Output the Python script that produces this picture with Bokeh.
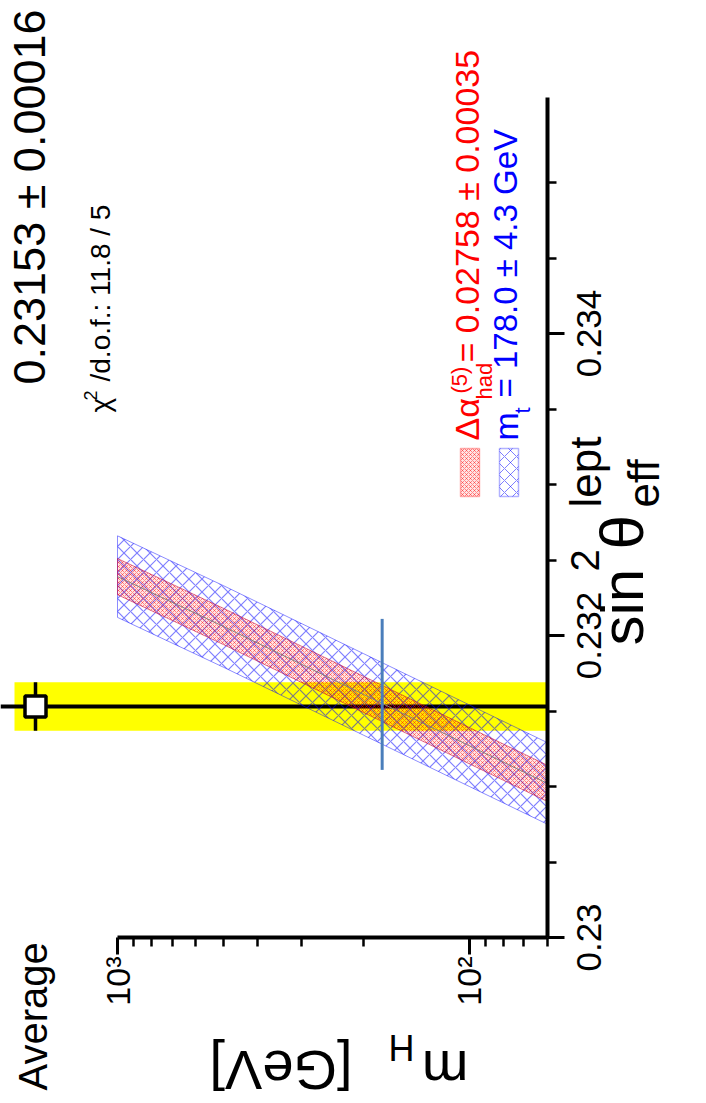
import math
from bokeh.plotting import figure
from bokeh.models import Range1d, FixedTicker, Label, BoxAnnotation
from bokeh.embed import file_html
from bokeh.resources import INLINE

# ---------------- data ----------------
mh = [1000, 500, 200, 100, 60]                       # Higgs mass [GeV]
sin2_center = [0.23239, 0.23206, 0.23161, 0.23127, 0.23102]
red_hi = [0.23251, 0.23218, 0.23173, 0.23139, 0.23114]   # delta alpha band
red_lo = [0.23227, 0.23194, 0.23149, 0.23115, 0.23090]
blue_hi = [0.23266, 0.23233, 0.23188, 0.23154, 0.23129]  # m_t band
blue_lo = [0.23212, 0.23179, 0.23134, 0.23100, 0.23075]

average = 0.23153
average_err = 0.00016
mark_mh = 177
mark_lo = 0.23111
mark_hi = 0.23211

sin2_major = [0.230, 0.232, 0.234]
sin2_minor = [0.2305, 0.231, 0.2315, 0.2325, 0.233, 0.2335, 0.2345, 0.235]
sin2_labels = ["0.23", "0.232", "0.234"]
mh_major = [100, 1000]
mh_minor = [60, 70, 80, 90, 200, 300, 400, 500, 600, 700, 800, 900]
mh_labels = ["10\u00b2", "10\u00b3"]
mh_min, mh_max = 60, 1000
sin2_min, sin2_max = 0.23, 0.23556

# ---------------- layout ----------------
W, H = 706, 1103
PX_1000, PX_60 = 117, 547    # m_H axis positions in pixels
DEC = (PX_60 - PX_1000) / math.log10(mh_max / mh_min)
PY_230, PX_PER_UNIT = 937, 151000.0

def px_to_mh(px):
    return 10 ** (math.log10(mh_max) - (px - PX_1000) / DEC)

def py_to_s2(py):
    return sin2_min + (PY_230 - py) / PX_PER_UNIT

FONT = "Liberation Sans"

p = figure(width=W, height=H, x_axis_type="log",
           x_range=Range1d(px_to_mh(0), px_to_mh(W)),
           y_range=Range1d(py_to_s2(H), py_to_s2(0)),
           min_border=0, output_backend="svg", toolbar_location=None)
p.outline_line_color = None
p.background_fill_color = "white"
p.border_fill_color = "white"
p.xgrid.visible = False
p.ygrid.visible = False

# m_H axis
xa = p.xaxis[0]
xa.fixed_location = sin2_min
xa.ticker = FixedTicker(ticks=mh_major, minor_ticks=mh_minor)
xa.bounds = (mh_min, mh_max)
xa.major_label_overrides = {v: t for v, t in zip(mh_major, mh_labels)}
xa.major_tick_out = 17
xa.minor_tick_out = 9
xa.major_tick_in = 0
xa.minor_tick_in = 0
xa.major_label_orientation = math.pi / 2
xa.major_label_text_font_size = "34px"
xa.major_label_standoff = 2

# sin^2 theta axis (vertical, at the low-m_H edge, ticks and labels to the right)
ya = p.yaxis[0]
ya.fixed_location = mh_min
ya.ticker = FixedTicker(ticks=sin2_major, minor_ticks=sin2_minor)
ya.bounds = (sin2_min, sin2_max)
ya.major_label_overrides = {v: t for v, t in zip(sin2_major, sin2_labels)}
ya.major_tick_out = 0
ya.minor_tick_out = 0
ya.major_tick_in = 17
ya.minor_tick_in = 9
ya.major_label_orientation = "parallel"
ya.major_label_text_font_size = "35px"
ya.major_label_standoff = -53

for ax in (xa, ya):
    ax.axis_line_width = 4
    ax.axis_line_color = "black"
    ax.major_tick_line_width = 3
    ax.minor_tick_line_width = 2.5
    ax.major_label_text_font = FONT
    ax.major_label_text_color = "black"

# yellow band for the average and its line
p.add_layout(BoxAnnotation(left=px_to_mh(14), right=mh_min,
                           bottom=average - average_err,
                           top=average + average_err, fill_color="#ffff00",
                           fill_alpha=1.0, line_color=None, level="underlay"))
p.segment(x0=[px_to_mh(0)], y0=[average], x1=[mh_min], y1=[average],
          line_color="black", line_width=4)

# m_t band (blue crosshatch)
p.patch(x=mh + mh[::-1], y=blue_hi + blue_lo[::-1], fill_color=None,
        hatch_pattern="diagonal_cross", hatch_color="blue", hatch_alpha=0.5,
        hatch_scale=13, hatch_weight=1.2, line_color="blue", line_alpha=0.45,
        line_width=1)
# delta alpha band (red fine hatch)
p.patch(x=mh + mh[::-1], y=red_hi + red_lo[::-1], fill_color="red",
        fill_alpha=0.10, hatch_pattern="diagonal_cross", hatch_color="red",
        hatch_alpha=0.42, hatch_scale=4, hatch_weight=1, line_color="#c00040",
        line_alpha=0.55, line_width=1)
p.line(mh, sin2_center, line_color="gray", line_width=1)

# vertical marker line
p.segment(x0=[mark_mh], y0=[mark_lo], x1=[mark_mh], y1=[mark_hi],
          line_color="#4a7ebb", line_width=3)

# average point (outside the m_H range, in the "Average" row)
avg_x = px_to_mh(35)
p.segment(x0=[avg_x], y0=[average - average_err], x1=[avg_x],
          y1=[average + average_err], line_color="black", line_width=3.5)
p.scatter(x=[avg_x], y=[average], marker="square", size=21,
          fill_color="white", line_color="black", line_width=3.5)

BASE_FIX = 0.47   # measured baseline offset of rotated labels, in em

def lab(text, px, py, size, color="black", angle=math.pi / 2):
    if angle == math.pi:
        py = py + BASE_FIX * size
    else:
        px = px - BASE_FIX * size
    p.add_layout(Label(x=px_to_mh(px), y=py_to_s2(py), text=text, angle=angle,
                       text_font=FONT, text_font_size=f"{size}px",
                       text_color=color, text_align="left",
                       text_baseline="alphabetic", level="overlay"))

# header texts
lab("0.23153 \u00b1 0.00016", 50, 384, 45)
lab("\u03c7", 113, 412, 28)
lab("2", 98, 400, 18)
lab("/d.o.f.: 11.8 / 5", 113, 381, 28)
lab("Average", 51, 1090, 40)

# legend swatches
p.add_layout(BoxAnnotation(left=px_to_mh(460), right=px_to_mh(479),
                           top=py_to_s2(448), bottom=py_to_s2(496),
                           fill_color="red", fill_alpha=0.10,
                           hatch_pattern="diagonal_cross", hatch_color="red",
                           hatch_alpha=0.42, hatch_scale=4, line_color="red",
                           line_width=1.5))
p.add_layout(BoxAnnotation(left=px_to_mh(499), right=px_to_mh(518),
                           top=py_to_s2(448), bottom=py_to_s2(496),
                           fill_color=None, fill_alpha=0,
                           hatch_pattern="diagonal_cross", hatch_color="blue",
                           hatch_alpha=0.5, hatch_scale=12, line_color="blue",
                           line_width=1.5))
# legend texts
lab("\u0394\u03b1", 482, 440, 34, "red")
lab("(5)", 469, 393, 22, "red")
lab("had", 494, 399, 22, "red")
lab("= 0.02758 \u00b1 0.00035", 482, 362, 34, "red")
lab("m", 521, 440, 34, "blue")
lab("t", 532, 413, 22, "blue")
lab("= 178.0 \u00b1 4.3 GeV", 521, 397, 33, "blue")

# sin^2 theta axis title
lab("sin", 650, 645, 60)
lab("2", 603, 571, 40)
lab("\u03b8", 650, 549, 62)
lab("eff", 664, 507, 44)
lab("lept", 606, 507, 44)

# m_H axis title (upside down)
lab("m", 468, 1044, 56, angle=math.pi)
lab("H", 414, 1030, 36, angle=math.pi)
lab("[GeV]", 352, 1044, 56, angle=math.pi)

open("out.html", "w").write(file_html(p, INLINE))
